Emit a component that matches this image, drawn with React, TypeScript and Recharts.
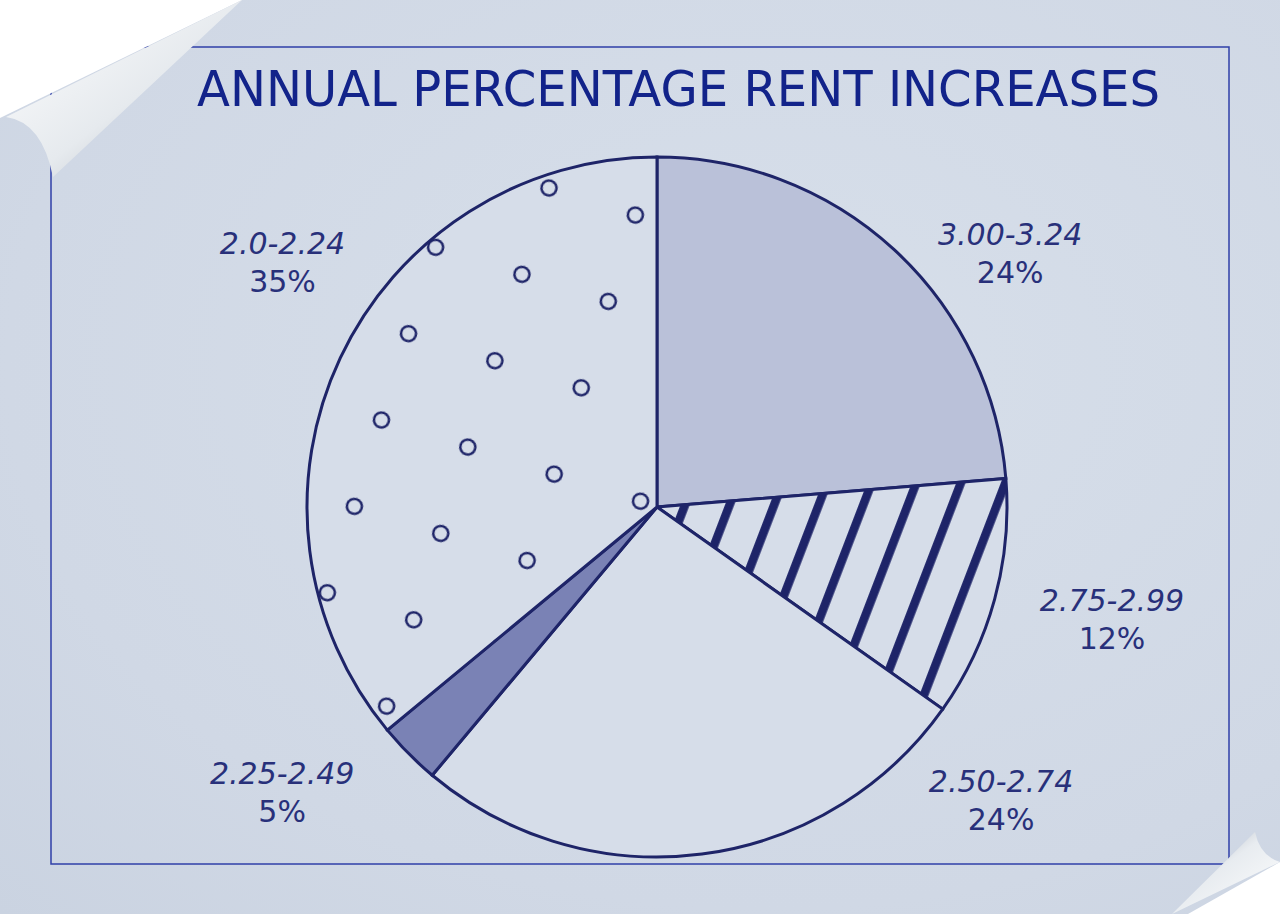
import { PieChart, Pie, Cell } from 'recharts'

const ranges = ['3.00-3.24', '2.75-2.99', '2.50-2.74', '2.25-2.49', '2.0-2.24']
// percentages as printed on the labels
const shares = [24, 12, 24, 5, 35]
// slice sizes as actually drawn in the picture (measured angles)
const drawnShares = [23.7, 11.1, 26.3, 2.9, 36.0]

const data = ranges.map((range, i) => ({ range, share: shares[i], drawn: drawnShares[i] }))

const INK = '#1e2468'
const TEXT = '#28307a'
const fills = ['#bac1d9', 'url(#hatch)', '#d6dde9', '#7a82b5', 'url(#dots)']

// label anchor offsets, in units of the outer radius, from the pie centre
const labelAt = [
  [1.009, -0.726],
  [1.3, 0.319],
  [0.983, 0.837],
  [-1.071, 0.814],
  [-1.07, -0.7],
]

function renderLabel(props: any) {
  const { cx, cy, outerRadius, index, payload } = props
  const [fx, fy] = labelAt[index]
  const x = cx + fx * outerRadius
  const y = cy + fy * outerRadius
  return (
    <g key={`lbl-${index}`}>
      <text x={x} y={y - 8} textAnchor="middle" fill={TEXT} fontSize={30} fontStyle="italic" fontFamily="DejaVu Sans, sans-serif">
        {payload.range}
      </text>
      <text x={x} y={y + 30} textAnchor="middle" fill={TEXT} fontSize={30} fontFamily="DejaVu Sans, sans-serif">
        {payload.share}%
      </text>
    </g>
  )
}

export default function App() {
  return (
    <div style={{ position: 'absolute', left: 0, top: 0, width: 1280, height: 914, background: 'radial-gradient(ellipse at 60% 40%, #d7dfea 0%, #d0d8e5 70%, #cad3e1 100%)', overflow: 'hidden' }}>
      <svg width={1280} height={914} style={{ position: 'absolute', left: 0, top: 0 }}>
        <defs>
          <pattern id="hatch" patternUnits="userSpaceOnUse" width={41.6} height={200} patternTransform="rotate(21)">
            <rect x={0} y={0} width={41.6} height={200} fill="#d6dde9" />
            <rect x={25.8} y={0} width={8.6} height={200} fill={INK} />
          </pattern>
          <pattern id="dots" patternUnits="userSpaceOnUse" width={90.5} height={90.5} patternTransform="rotate(17.4)">
            <rect x={0} y={0} width={90.5} height={90.5} fill="#d6dde9" />
            <circle cx={37.1} cy={15.2} r={7.5} fill="none" stroke={INK} strokeWidth={2.5} />
          </pattern>
          <linearGradient id="curlA" x1="0" y1="0" x2="1" y2="1">
            <stop offset="0%" stopColor="#ffffff" />
            <stop offset="55%" stopColor="#e6eaee" />
            <stop offset="100%" stopColor="#a9b0ba" />
          </linearGradient>
          <linearGradient id="curlB" x1="0" y1="0" x2="1" y2="1">
            <stop offset="0%" stopColor="#9aa2ad" />
            <stop offset="45%" stopColor="#e8ecf0" />
            <stop offset="100%" stopColor="#ffffff" />
          </linearGradient>
        </defs>
        <rect x={51} y={47} width={1178} height={817} fill="none" stroke="#2f3fa8" strokeWidth={1.5} />
        <text x={197} y={106} textLength={963} lengthAdjust="spacingAndGlyphs" fill="#12238a" fontSize={50} fontFamily="DejaVu Sans, sans-serif">
          ANNUAL PERCENTAGE RENT INCREASES
        </text>
      </svg>
      <div style={{ position: 'absolute', left: 0, top: 0 }}>
        <PieChart width={1280} height={914} margin={{ top: 0, right: 0, bottom: 0, left: 0 }}>
          <Pie
            data={data}
            dataKey="drawn"
            nameKey="range"
            cx={657}
            cy={507}
            outerRadius={350}
            startAngle={90}
            endAngle={-270}
            stroke={INK}
            strokeWidth={3}
            label={renderLabel}
            labelLine={false}
            isAnimationActive={false}
          >
            {data.map((d, i) => (
              <Cell key={d.range} fill={fills[i]} />
            ))}
          </Pie>
        </PieChart>
      </div>
      <svg width={1280} height={914} style={{ position: 'absolute', left: 0, top: 0, pointerEvents: 'none' }}>
        <polygon points="0,0 242,0 0,118" fill="#ffffff" />
        <path d="M242,0 L6,117 Q42,122 53,177 Z" fill="url(#curlA)" />
        <polygon points="1280,862 1280,914 1188,914" fill="#ffffff" />
        <path d="M1255,832 Q1260,856 1280,862 L1172,914 Z" fill="url(#curlB)" />
      </svg>
    </div>
  )
}
